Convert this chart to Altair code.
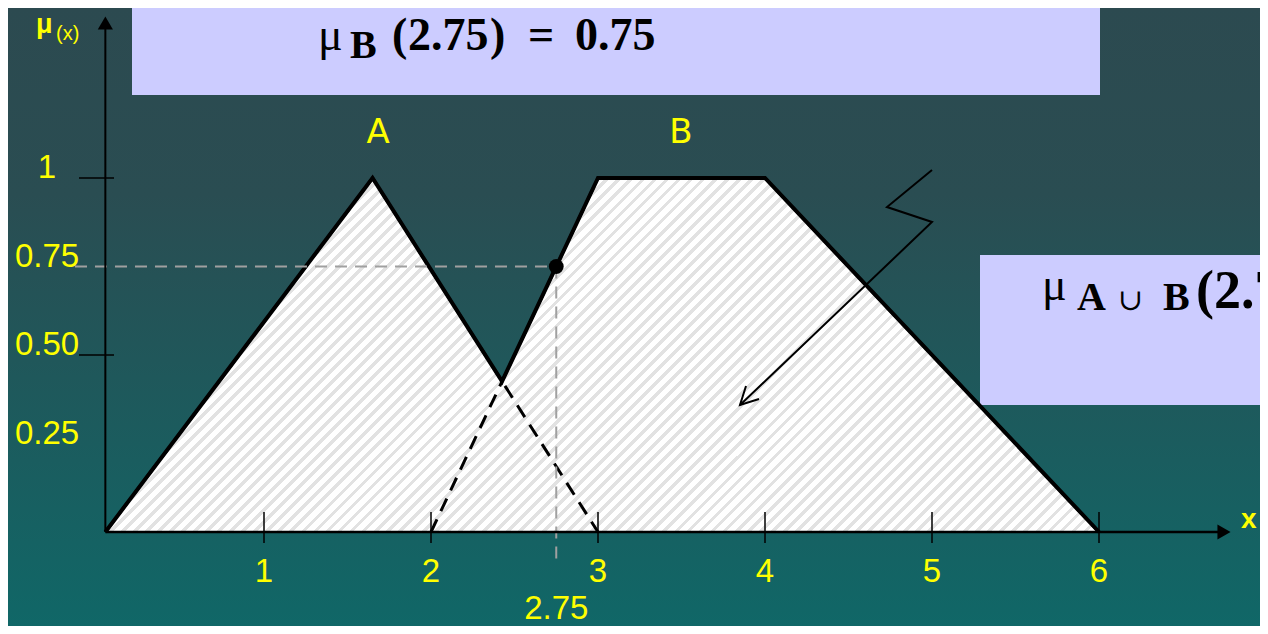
import altair as alt
import pandas as pd

# ---------------- data ----------------
origin_x = 0.05
a_x = [0.05, 1.65, 3]
a_mu = [0, 1, 0]
b_x = [2, 3, 4, 6]
b_mu = [0, 1, 1, 0]
union_x = [0.05, 1.65, 2.4255, 3, 4, 6]
union_mu = [0, 1, 0.4255, 1, 1, 0]
x_ticks = [1, 2, 3, 4, 5, 6]
x_tick_labels = ["1", "2", "3", "4", "5", "6"]
y_ticks = [1, 0.5]
y_label_values = [1, 0.75, 0.5, 0.25]
y_label_texts = ["1", "0.75", "0.50", "0.25"]
query_x = [2.75]
query_mu = [0.75]
query_label = ["2.75"]
set_names = ["A", "B"]

# ---------------- layout ----------------
W, H = 1252, 618
X0, XU = 89, 167      # plot px of x=0, px per unit
Y0, YU = 524, 354     # plot px of mu=0, px per unit


def px(p):  # page x -> data x
    return (p - 8 - X0) / XU


def py(p):  # page y -> data mu
    return (Y0 - (p - 8)) / YU


xs = alt.Scale(domain=[px(8), px(8 + W)], nice=False, zero=False)
ys = alt.Scale(domain=[py(8 + H), py(8)], nice=False, zero=False)

YELLOW = "#ffff00"
SANS = "Liberation Sans, Arial, sans-serif"
SERIF = "Liberation Serif, Times New Roman, serif"


def X(f, **kw):
    return alt.X(f, type="quantitative", scale=xs, axis=None, **kw)


def Y(f, **kw):
    return alt.Y(f, type="quantitative", scale=ys, axis=None, **kw)


one = pd.DataFrame({"k": [0]})

# background gradient
bg = alt.Chart(one).mark_rect(
    color=alt.Gradient(
        gradient="linear",
        stops=[alt.GradientStop(color="#2c4a50", offset=0),
               alt.GradientStop(color="#2a4d52", offset=0.3),
               alt.GradientStop(color="#106767", offset=1)],
        x1=0, x2=0, y1=0, y2=1)
).encode(x=alt.value(0), x2=alt.value(W), y=alt.value(0), y2=alt.value(H))

# hatch-like fill (diagonal stripes)
n = 112
stops = []
for i in range(n):
    a, b, c = i / n, (i + 0.6) / n, (i + 1) / n
    stops += [alt.GradientStop(color="#ffffff", offset=a),
              alt.GradientStop(color="#ffffff", offset=b),
              alt.GradientStop(color="#e2e2e2", offset=b),
              alt.GradientStop(color="#e2e2e2", offset=min(c, 1.0))]
hatch = alt.Gradient(gradient="linear", stops=stops, x1=0, y1=0, x2=1.2035, y2=0.4288)

df_u = pd.DataFrame({"x": union_x, "mu": union_mu})
df_a = pd.DataFrame({"x": a_x, "mu": a_mu})
df_b = pd.DataFrame({"x": b_x, "mu": b_mu})

area = alt.Chart(df_u).mark_area(color=hatch, line=False).encode(
    x=X("x"), y=Y("mu"), y2=alt.datum(0))
dash_a = alt.Chart(df_a).mark_line(color="black", strokeWidth=3, strokeDash=[14, 9]).encode(
    x=X("x"), y=Y("mu"))
dash_b = alt.Chart(df_b).mark_line(color="black", strokeWidth=3, strokeDash=[14, 9]).encode(
    x=X("x"), y=Y("mu"))
uline = alt.Chart(df_u).mark_line(color="black", strokeWidth=4, strokeJoin="miter").encode(
    x=X("x"), y=Y("mu"))

# guides to the query point
df_q = pd.DataFrame({"x": query_x, "mu": query_mu, "lab": query_label})
guide_h = alt.Chart(df_q).mark_rule(color="#a0a0a0", strokeWidth=2, strokeDash=[12, 8]).encode(
    x=alt.X("xl:Q", scale=xs, axis=None), x2="x", y=Y("mu")).transform_calculate(xl=str(px(75)))
guide_v = alt.Chart(df_q).mark_rule(color="#a0a0a0", strokeWidth=2, strokeDash=[12, 8]).encode(
    x=X("x"), y=Y("mu"), y2="yl:Q").transform_calculate(yl=str(py(562)))
dot = alt.Chart(df_q).mark_point(filled=True, color="black", size=220, opacity=1, shape="circle").encode(
    x=X("x"), y=Y("mu"))

# axes (drawn by hand to match the arrow style)
axis_df = pd.DataFrame({"x": [origin_x], "mu": [0], "xe": [px(1220)], "ye": [py(22)]})
x_axis = alt.Chart(axis_df).mark_rule(color="black", strokeWidth=2.5).encode(
    x=X("x"), x2="xe", y=Y("mu"))
y_axis = alt.Chart(axis_df).mark_rule(color="black", strokeWidth=2).encode(
    x=X("x"), y=Y("mu"), y2="ye")
arr_x = alt.Chart(axis_df).mark_point(shape="triangle-right", filled=True, color="black", size=230, opacity=1).encode(
    x=alt.X("ax:Q", scale=xs, axis=None), y=Y("mu")).transform_calculate(ax=str(px(1224)))
arr_y = alt.Chart(axis_df).mark_point(shape="triangle-up", filled=True, color="black", size=230, opacity=1).encode(
    x=X("x"), y=alt.Y("ay:Q", scale=ys, axis=None)).transform_calculate(ay=str(py(23)))

df_xt = pd.DataFrame({"x": x_ticks, "lab": x_tick_labels})
xticks = alt.Chart(df_xt).mark_rule(color="black", strokeWidth=1.5).encode(
    x=X("x"), y=alt.Y("t0:Q", scale=ys, axis=None), y2="t1:Q"
).transform_calculate(t0=str(py(512)), t1=str(py(543)))
xlabels = alt.Chart(df_xt).mark_text(color=YELLOW, font=SANS, fontSize=33, align="center", baseline="alphabetic").encode(
    x=X("x"), y=alt.Y("b:Q", scale=ys, axis=None), text="lab:N").transform_calculate(b=str(py(582)))
qlabel = alt.Chart(df_q).mark_text(color=YELLOW, font=SANS, fontSize=33, align="center", baseline="alphabetic").encode(
    x=X("x"), y=alt.Y("b:Q", scale=ys, axis=None), text="lab:N").transform_calculate(b=str(py(619)))

df_yt = pd.DataFrame({"mu": y_ticks})
yticks = alt.Chart(df_yt).mark_rule(color="black", strokeWidth=1.5).encode(
    x=alt.X("t0:Q", scale=xs, axis=None), x2="t1:Q", y=Y("mu")
).transform_calculate(t0=str(px(79)), t1=str(px(114)))
df_yl = pd.DataFrame({"mu": y_label_values, "lab": y_label_texts})
ylabels = alt.Chart(df_yl).mark_text(color=YELLOW, font=SANS, fontSize=33, align="center", baseline="alphabetic").encode(
    x=alt.X("lx:Q", scale=xs, axis=None), y=Y("mu"), text="lab:N").transform_calculate(lx=str(px(47)))

# set names
df_sets = pd.DataFrame({"lab": set_names, "x": [px(378), px(681)], "mu": [py(143), py(143)]})
setlab = alt.Chart(df_sets).mark_text(color=YELLOW, font="DejaVu Sans, sans-serif", fontSize=34, align="center", baseline="alphabetic").encode(
    x=X("x"), y=Y("mu"), text="lab:N")


def txt(items, **style):
    d = pd.DataFrame({"lab": [t for t, _, _ in items],
                      "x": [px(a) for _, a, _ in items],
                      "mu": [py(b) for _, _, b in items]})
    return alt.Chart(d).mark_text(baseline="alphabetic", align="left", **style).encode(
        x=X("x"), y=Y("mu"), text="lab:N")


mu_lab = txt([("μ", 36, 33)], color=YELLOW, font=SANS, fontSize=27, fontWeight="bold")
mux_lab = txt([("(x)", 56, 40)], color=YELLOW, font=SANS, fontSize=20)
x_lab = txt([("x", 1241, 528)], color=YELLOW, font=SANS, fontSize=28, fontWeight="bold")

# zig-zag pointer
zz = pd.DataFrame({"x": [px(932), px(887), px(932), px(740)],
                   "mu": [py(170), py(207), py(222), py(405)], "o": [0, 1, 2, 3]})
zig = alt.Chart(zz).mark_line(color="black", strokeWidth=2).encode(x=X("x"), y=Y("mu"), order="o:Q")
hd = pd.DataFrame({"x": [px(746), px(740), px(759)], "mu": [py(386), py(405), py(399)], "o": [0, 1, 2]})
head = alt.Chart(hd).mark_line(color="black", strokeWidth=2).encode(x=X("x"), y=Y("mu"), order="o:Q")

# formula boxes
boxes = pd.DataFrame({"x": [px(132), px(980)], "x2": [px(1100), px(1290)],
                      "mu": [py(-10), py(255)], "mu2": [py(95), py(405)]})
box = alt.Chart(boxes).mark_rect(color="#ccccff").encode(x=X("x"), x2="x2", y=Y("mu"), y2="mu2")

f_mu = txt([("μ", 318, 50), ("μ", 1042, 300)], color="black", font=SERIF, fontSize=46)
f_sub = txt([("B", 350, 58), ("A", 1077, 310), ("B", 1163, 310)], color="black", font=SERIF, fontSize=40, fontWeight="bold")
f_cup = txt([("∪", 1118, 310)], color="black", font="DejaVu Serif, serif", fontSize=30)
f_main = txt([("(", 392, 50), ("2.75", 408, 50), (")", 490, 50), ("=", 528, 50), ("0.75", 575, 50)],
             color="black", font=SERIF, fontSize=46, fontWeight="bold")
f_main2 = txt([("(2.75) = 0.75", 1196, 308)], color="black", font=SERIF, fontSize=54, fontWeight="bold")

chart = alt.layer(
    bg, box, f_mu, f_sub, f_cup, f_main, f_main2,
    area, dash_a, dash_b, uline, guide_h, guide_v,
    x_axis, y_axis, arr_x, arr_y, xticks, yticks, dot,
    xlabels, qlabel, ylabels, setlab, mu_lab, mux_lab, x_lab, zig, head,
).properties(
    width=W, height=H, padding=0, autosize=alt.AutoSizeParams(type="none"),
    background="#1f5a5c",
).configure_view(stroke=None)

chart.save("out.html", embed_options={"renderer": "svg", "actions": False})
